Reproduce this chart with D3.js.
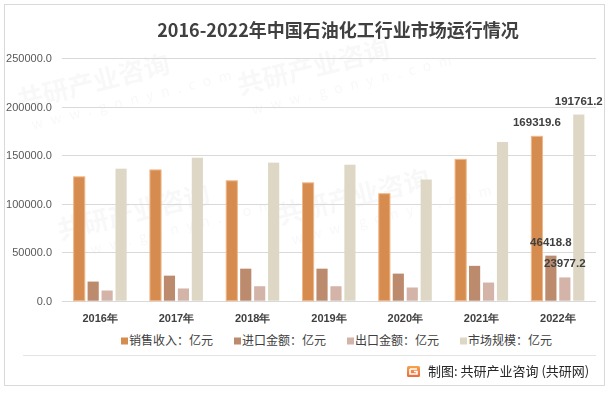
<!DOCTYPE html>
<html>
<head>
<meta charset="utf-8">
<script src="https://cdn.jsdelivr.net/npm/d3@7"></script>
<style>
  body { margin: 0; background: #fff; }
  svg { display: block; font-family: "Noto Sans CJK SC", "Noto Sans", sans-serif; }
</style>
</head>
<body>
<svg id="chart" width="613" height="393"></svg>
<script>
// DATA
const years = ["2016年", "2017年", "2018年", "2019年", "2020年", "2021年", "2022年"];
const seriesNames = ["销售收入：亿元", "进口金额：亿元", "出口金额：亿元", "市场规模：亿元"];
const sales = [127600, 134700, 123500, 121400, 110200, 145600, 169319.6];
const imports = [19700, 25800, 33000, 33000, 27900, 35900, 46418.8];
const exports = [10500, 12600, 14900, 14900, 13600, 18700, 23977.2];
const marketSize = [136000, 147300, 142200, 140100, 124800, 163500, 191761.2];
const yTicks = [0, 50000, 100000, 150000, 200000, 250000];
const labelledYear = "2022年";

const colors = ["#d58c4e", "#bc8b6d", "#d4b4a8", "#ded7c5"];
const allSeries = [sales, imports, exports, marketSize];

const width = 613, height = 393;
const margin = { top: 58, right: 17, bottom: 92, left: 62 };

const svg = d3.select("svg#chart");

// frame
svg.append("rect")
    .attr("x", 4.5).attr("y", 4.5)
    .attr("width", 600).attr("height", 381)
    .attr("fill", "#fff")
    .attr("stroke", "#d9d9d9");

// watermark (faint, kept clear of the labels)
const wm = svg.append("g").attr("fill", "#000").attr("opacity", 0.03)
    .attr("font-weight", "bold");
[[20, 110], [240, 95], [60, 240], [280, 225]]
    .forEach(([x, y]) => {
        const g = wm.append("g").attr("transform", `translate(${x},${y}) rotate(-14)`);
        g.append("text").attr("font-size", 26).text("共研产业咨询");
        g.append("text").attr("x", 8).attr("y", 22).attr("font-size", 14).attr("font-weight", "normal")
            .attr("letter-spacing", 8).text("www.gonyn.com");
    });

// SCALES
const x0 = d3.scaleBand()
    .domain(years)
    .range([margin.left, width - margin.right])
    .paddingInner(0.305)
    .paddingOuter(0.1525);

const x1 = d3.scaleBand()
    .domain(seriesNames)
    .range([0, x0.bandwidth()])
    .paddingInner(0.2);

const yScale = d3.scaleLinear()
    .domain([0, 250000])
    .range([height - margin.bottom - 0.3, margin.top]);

// GRID
svg.append("g")
    .selectAll("line")
    .data(yTicks)
    .join("line")
    .attr("x1", margin.left).attr("x2", width - margin.right)
    .attr("y1", d => Math.round(yScale(d)) + 0.5)
    .attr("y2", d => Math.round(yScale(d)) + 0.5)
    .attr("stroke", "#d9d9d9");

// Y AXIS labels
const yAxis = g => g.attr("transform", `translate(${margin.left},0)`)
    .call(d3.axisLeft(yScale).tickValues(yTicks).tickFormat(d3.format(".1f")).tickSize(0).tickPadding(10))
    .call(g => g.select(".domain").remove())
    .call(g => g.selectAll("text")
        .attr("fill", "#595959")
        .attr("font-size", 11)
        .attr("font-family", "Liberation Sans, Arial, sans-serif"));
svg.append("g").call(yAxis);

// X AXIS labels
const xAxis = g => g.attr("transform", `translate(0,${yScale(0)})`)
    .call(d3.axisBottom(x0).tickSize(0).tickPadding(14))
    .call(g => g.select(".domain").remove())
    .call(g => g.selectAll("text")
        .attr("fill", "#404040")
        .attr("font-size", 11)
        .attr("font-weight", "bold"));
svg.append("g").call(xAxis);

// BARS
const groups = svg.append("g")
    .selectAll("g")
    .data(years)
    .join("g")
    .attr("transform", d => `translate(${x0(d)},0)`);

groups.selectAll("rect")
    .data((yr, i) => seriesNames.map((s, j) => ({ year: yr, series: s, value: allSeries[j][i], c: j })))
    .join("rect")
    .attr("x", d => x1(d.series))
    .attr("y", d => yScale(d.value))
    .attr("width", x1.bandwidth())
    .attr("height", d => yScale(0) - yScale(d.value))
    .attr("fill", d => colors[d.c])
    .attr("stroke", d => d.c === 0 ? "#f0b88c" : "none")
    .attr("stroke-width", 1);

// DATA LABELS (last year only)
groups.filter(d => d === labelledYear)
    .selectAll("text")
    .data(yr => seriesNames.map((s, j) => ({ series: s, value: allSeries[j][years.indexOf(yr)] })))
    .join("text")
    .attr("x", d => x1(d.series) + x1.bandwidth() / 2)
    .attr("y", d => yScale(d.value) - 10)
    .attr("text-anchor", "middle")
    .attr("font-family", "Liberation Sans, Arial, sans-serif")
    .attr("font-weight", "bold")
    .attr("font-size", 11.5)
    .attr("fill", "#404040")
    .text(d => d3.format(".1f")(d.value));

// LEGEND
const legendX = [121, 234, 347, 460];
const legend = svg.append("g")
    .selectAll("g")
    .data(seriesNames)
    .join("g")
    .attr("transform", (d, i) => `translate(${legendX[i]},341)`);
legend.append("rect")
    .attr("x", 0).attr("y", -3.5)
    .attr("width", 7).attr("height", 7)
    .attr("fill", (d, i) => colors[i]);
legend.append("text")
    .attr("x", 8).attr("dy", "0.36em")
    .attr("font-size", 12)
    .attr("fill", "#404040")
    .text(d => d);

// separator
svg.append("line")
    .attr("x1", 23).attr("x2", 596)
    .attr("y1", 355.5).attr("y2", 355.5)
    .attr("stroke", "#e3e3e3");

// footer logo
const logo = svg.append("g").attr("transform", "translate(407,366)");
const grad = svg.append("defs").append("linearGradient")
    .attr("id", "lg").attr("x1", 0).attr("y1", 0).attr("x2", 0).attr("y2", 1);
grad.append("stop").attr("offset", "0%").attr("stop-color", "#f7a44c");
grad.append("stop").attr("offset", "100%").attr("stop-color", "#ec6a3f");
logo.append("rect").attr("width", 13).attr("height", 11).attr("rx", 1.5).attr("fill", "url(#lg)");
logo.append("path")
    .attr("d", "M3,3 H10 M3,3 V8 H10 V5.5 H7")
    .attr("stroke", "#fff").attr("stroke-width", 1.6).attr("fill", "none");

svg.append("text")
    .attr("x", 428).attr("y", 371).attr("dy", "0.36em")
    .attr("font-size", 13)
    .attr("fill", "#262626")
    .text("制图: 共研产业咨询 (共研网)");

// TITLE
svg.append("text")
    .attr("x", 338).attr("y", 31).attr("dy", "0.36em")
    .attr("text-anchor", "middle")
    .attr("font-size", 18)
    .attr("font-weight", "bold")
    .attr("fill", "#404040")
    .text("2016-2022年中国石油化工行业市场运行情况");
</script>
</body>
</html>
